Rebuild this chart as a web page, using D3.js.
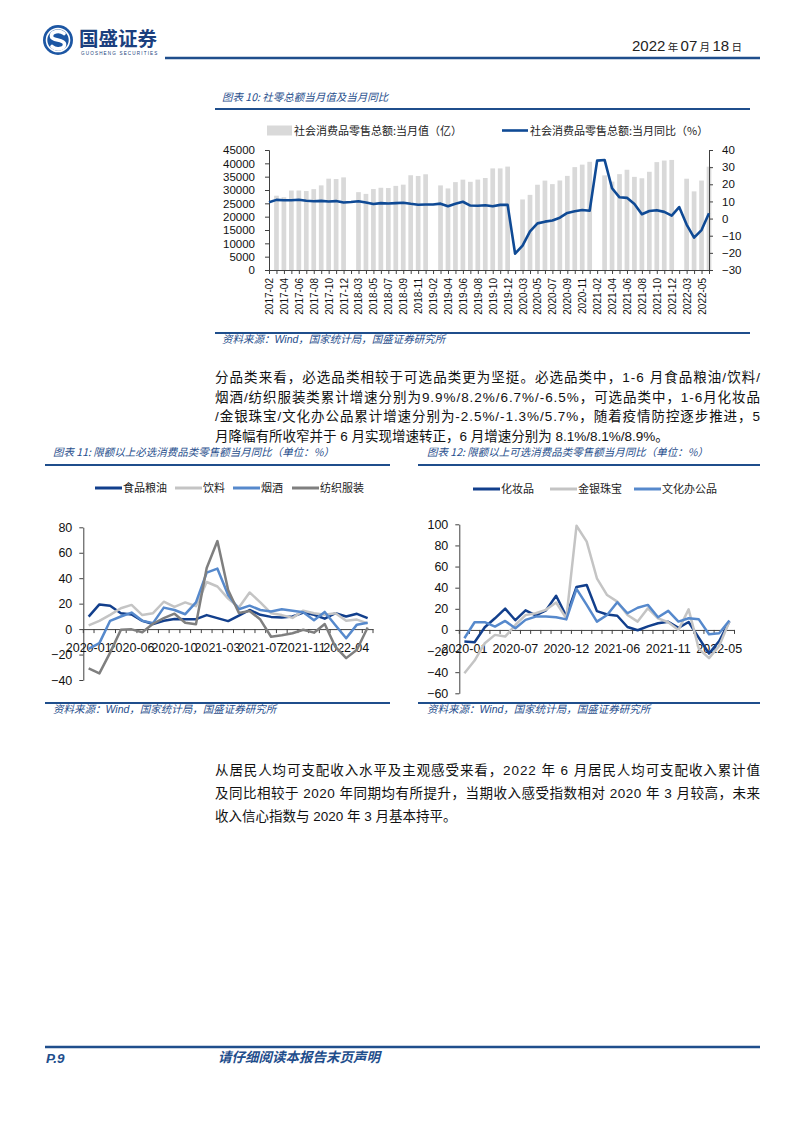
<!DOCTYPE html>
<html><head><meta charset="utf-8">
<script src="https://cdn.jsdelivr.net/npm/d3@7"></script>
<style>
html,body{margin:0;padding:0;background:#fff;}
svg{display:block;}
</style></head><body>
<svg id="page" width="794" height="1123"></svg>
<script>
// ---------------- DATA ----------------
const months10 = [
"2017-02","2017-03","2017-04","2017-05","2017-06","2017-07","2017-08","2017-09","2017-10","2017-11","2017-12",
"2018-02","2018-03","2018-04","2018-05","2018-06","2018-07","2018-08","2018-09","2018-10","2018-11","2018-12",
"2019-02","2019-03","2019-04","2019-05","2019-06","2019-07","2019-08","2019-09","2019-10","2019-11","2019-12",
"2020-02","2020-03","2020-04","2020-05","2020-06","2020-07","2020-08","2020-09","2020-10","2020-11","2020-12",
"2021-02","2021-03","2021-04","2021-05","2021-06","2021-07","2021-08","2021-09","2021-10","2021-11","2021-12",
"2022-02","2022-03","2022-04","2022-05","2022-06"];
const tickLabels10 = ["2017-02","2017-04","2017-06","2017-08","2017-10","2017-12","2018-03","2018-05","2018-07","2018-09","2018-11",
"2019-02","2019-04","2019-06","2019-08","2019-10","2019-12","2020-03","2020-05","2020-07","2020-09","2020-11",
"2021-02","2021-04","2021-06","2021-08","2021-10","2021-12","2022-03","2022-05"];
const retailValue = [
null,27864,27278,29805,29808,29610,30330,31735,34241,34108,34734,
null,29194,28542,30359,30842,30734,31542,32005,35534,35260,35893,
null,31726,30586,32956,33878,33073,33896,34495,38104,38094,38777,
null,26450,28178,31973,33526,32203,33571,35295,38576,39514,40566,
null,35484,33153,35945,37586,34925,34395,36833,40454,41043,41269,
null,34233,29483,33547,38742];
const retailYoY = [
9.5,10.9,10.7,10.7,11.0,10.4,10.1,10.3,10.0,10.2,9.4,
9.7,10.1,9.4,8.5,9.0,8.8,9.0,9.2,8.6,8.1,8.2,
8.2,8.7,7.2,8.6,9.8,7.6,7.5,7.8,7.2,8.0,8.0,
-20.5,-15.8,-7.5,-2.8,-1.8,-1.1,0.5,3.3,4.3,5.0,4.6,
33.8,34.2,17.7,12.4,12.1,8.5,2.5,4.4,4.9,3.9,1.7,
6.7,-3.5,-11.1,-6.7,3.1];
const leftTicks10 = [0,5000,10000,15000,20000,25000,30000,35000,40000,45000];
const rightTicks10 = [-30,-20,-10,0,10,20,30,40];

const months11 = ["2020-01","2020-03","2020-04","2020-05","2020-06","2020-07","2020-08","2020-09","2020-10","2020-11","2020-12",
"2021-02","2021-03","2021-04","2021-05","2021-06","2021-07","2021-08","2021-09","2021-10","2021-11","2021-12",
"2022-02","2022-03","2022-04","2022-05","2022-06"];
const tickLabels11 = ["2020-01","2020-06","2020-10","2021-03","2021-07","2021-11","2022-04"];
const food    = [9.8,19.4,18.3,12.5,11.5,6.5,4.0,6.5,8.0,7.8,7.8,11.0,8.6,6.3,10.6,15.0,11.2,9.6,9.1,9.9,13.0,11.2,8.2,12.5,9.9,12.0,8.6];
const drinks  = [3.0,6.5,11.2,16.4,19.0,11.0,12.5,21.5,17.5,21.0,18.0,37.0,33.5,24.0,17.0,28.8,21.0,12.5,11.0,8.8,14.5,12.5,11.2,12.5,6.5,7.5,4.5];
const tobacco = [-15.5,-11.0,6.5,9.9,13.0,6.5,4.7,16.9,15.0,11.7,21.0,44.4,47.5,26.8,15.6,18.4,15.0,13.8,15.6,14.5,13.2,7.0,13.5,3.0,-7.2,3.5,5.0];
const apparel = [-30.9,-34.8,-18.5,-0.6,-0.2,-2.5,4.2,8.6,12.1,5.0,3.8,48.0,69.2,30.7,12.6,14.3,7.5,-6.0,-4.8,-3.3,-0.5,-2.8,4.0,-14.0,-22.8,-16.2,1.2];
const ticks11 = [-40,-20,0,20,40,60,80];

const months12 = months11;
const tickLabels12 = ["2020-01","2020-07","2020-12","2021-06","2021-11","2022-05"];
const cosmetics  = [-11.0,-11.6,2.5,11.0,20.1,9.2,18.5,13.7,18.5,32.3,13.0,40.7,42.5,17.8,14.6,13.4,2.8,-0.3,3.4,6.3,7.7,2.0,7.5,-7.5,-22.3,-10.5,8.1];
const jewelry    = [-41.0,-29.0,-12.6,-4.7,-6.3,4.7,14.0,15.8,19.0,26.0,11.0,98.6,83.6,48.9,33.0,26.8,14.2,7.9,20.5,11.0,7.3,0.0,19.5,-17.9,-26.7,-15.2,8.1];
const stationery = [-7.9,7.3,7.3,3.2,8.5,1.6,9.5,12.6,12.6,12.0,10.0,38.8,23.7,7.9,14.2,26.2,15.8,21.0,23.7,12.0,18.0,7.9,11.0,10.0,-4.1,-3.2,8.9];
const ticks12 = [-60,-40,-20,0,20,40,60,80,100];

const para1 = [
 "分品类来看，必选品类相较于可选品类更为坚挺。必选品类中，1-6 月食品粮油/饮料/",
 "烟酒/纺织服装类累计增速分别为9.9%/8.2%/6.7%/-6.5%，可选品类中，1-6月化妆品",
 "/金银珠宝/文化办公品累计增速分别为-2.5%/-1.3%/5.7%，随着疫情防控逐步推进，5",
 "月降幅有所收窄并于 6 月实现增速转正，6 月增速分别为 8.1%/8.1%/8.9%。"];
const para2 = [
 "从居民人均可支配收入水平及主观感受来看，2022 年 6 月居民人均可支配收入累计值",
 "及同比相较于 2020 年同期均有所提升，当期收入感受指数相对 2020 年 3 月较高，未来",
 "收入信心指数与 2020 年 3 月基本持平。"];

// ---------------- STYLE ----------------
const BLUE = "#1F4E8C";
const CJK = "'Noto Sans CJK SC', sans-serif";
const NUM = "'Liberation Sans', Arial, sans-serif";
const MIX = "'Liberation Sans', 'Noto Sans CJK SC', sans-serif";
const AXIS = "#404040";

const svg = d3.select("#page");

// ---------------- HEADER ----------------
const logo = svg.append("g");
logo.append("circle").attr("cx",58).attr("cy",40).attr("r",15).attr("fill","#1C56A3");
logo.append("circle").attr("cx",58).attr("cy",40).attr("r",11.5).attr("fill","none").attr("stroke","#fff").attr("stroke-width",1.6);
logo.append("path").attr("d","M64,33.5 C60,30 51,31 51.5,36.5 C52,41 64,39 64.5,44 C65,49 56,50.5 52,46.5")
  .attr("fill","none").attr("stroke","#fff").attr("stroke-width",3.6).attr("stroke-linecap","round");
svg.append("text").attr("x",79).attr("y",45.5).text("国盛证券")
  .attr("font-family",CJK).attr("font-weight",700).attr("font-size",19.5).attr("fill","#1B3F7E");
svg.append("text").attr("x",81).attr("y",55).text("GUOSHENG SECURITIES")
  .attr("font-family",NUM).attr("font-size",4.6).attr("letter-spacing",1.15).attr("fill","#1B3F7E");
const date = svg.append("text").attr("x",742).attr("y",51).attr("text-anchor","end").attr("fill","#222");
[["2022","n"],[" 年 ","c"],["07","n"],[" 月 ","c"],["18","n"],[" 日","c"]].forEach(([t,k])=>{
  date.append("tspan").text(t).attr("font-family", k==="n" ? "'Liberation Sans Narrow','Liberation Sans',sans-serif" : CJK)
    .attr("font-size", k==="n"?15:10.5);
});
svg.append("line").attr("x1",165).attr("x2",760).attr("y1",58).attr("y2",58).attr("stroke",BLUE).attr("stroke-width",2.6);

// ---------------- FOOTER ----------------
svg.append("line").attr("x1",45).attr("x2",760).attr("y1",1047).attr("y2",1047).attr("stroke",BLUE).attr("stroke-width",2.4);
svg.append("text").attr("x",46).attr("y",1063).text("P.9").attr("font-family",NUM).attr("font-weight",700)
  .attr("font-style","italic").attr("font-size",13.5).attr("fill",BLUE);
svg.append("text").attr("x",218).attr("y",1062).text("请仔细阅读本报告末页声明").attr("font-family",CJK).attr("font-weight",700)
  .attr("font-style","italic").attr("font-size",13.5).attr("fill",BLUE);

// ---------------- HELPERS ----------------
function chartFrame(x1, x2, titleX, titleY, ruleY, title, srcRuleY, srcY){
  svg.append("text").attr("x",titleX).attr("y",titleY).text(title).attr("font-family",CJK)
    .attr("font-style","italic").attr("font-size",10.5).attr("fill",BLUE);
  svg.append("line").attr("x1",x1).attr("x2",x2).attr("y1",ruleY).attr("y2",ruleY).attr("stroke",BLUE).attr("stroke-width",2.2);
  svg.append("line").attr("x1",x1).attr("x2",x2).attr("y1",srcRuleY).attr("y2",srcRuleY).attr("stroke",BLUE).attr("stroke-width",2.2);
  const s = svg.append("text").attr("x",titleX).attr("y",srcY).attr("font-style","italic").attr("font-size",10.5).attr("fill",BLUE);
  s.append("tspan").text("资料来源：").attr("font-family",CJK);
  s.append("tspan").text("Wind").attr("font-family",NUM);
  s.append("tspan").text("，国家统计局，国盛证券研究所").attr("font-family",CJK);
}
function styleAxis(g, size){
  g.select(".domain").attr("stroke",AXIS).attr("stroke-width",1);
  g.selectAll(".tick line").attr("stroke",AXIS).attr("stroke-width",1);
  g.selectAll("text").attr("font-family",NUM).attr("font-size",size).attr("fill","#111");
}

// ---------------- CHART 10 ----------------
chartFrame(215, 750, 222, 101, 109, "图表 10:  社零总额当月值及当月同比", 333, 343);
{
  const x = d3.scalePoint().domain(months10).range([269, 709]);
  const yL = d3.scaleLinear().domain([0,45000]).range([270,150]);
  const yR = d3.scaleLinear().domain([-30,40]).range([270,150]);
  const bw = 4.7;
  svg.append("g").selectAll("rect").data(months10.map((m,i)=>({m, v:retailValue[i]})).filter(d=>d.v!=null))
    .join("rect").attr("x",d=>x(d.m)-bw/2).attr("width",bw).attr("y",d=>yL(d.v)).attr("height",d=>yL(0)-yL(d.v))
    .attr("fill","#D9D9D9");
  const gl = svg.append("g").attr("transform","translate(269,0)")
    .call(d3.axisLeft(yL).tickValues(leftTicks10).tickSize(4).tickPadding(10).tickFormat(d3.format("d")));
  styleAxis(gl, 11.5);
  const gr = svg.append("g").attr("transform","translate(709,0)")
    .call(d3.axisRight(yR).tickValues(rightTicks10).tickSize(4).tickPadding(9).tickFormat(d3.format("d")));
  styleAxis(gr, 11.5);
  const gb = svg.append("g").attr("transform","translate(0,270)")
    .call(d3.axisBottom(x).tickSize(4).tickSizeOuter(0).tickFormat(d => tickLabels10.includes(d) ? d : ""));
  styleAxis(gb, 10);
  gb.selectAll("text").attr("transform","rotate(-90)").attr("x",-8).attr("y",0).attr("dy","0.35em").style("text-anchor","end");
  const line = d3.line().x((d,i)=>x(months10[i])).y(d=>yR(d));
  svg.append("path").datum(retailYoY).attr("d",line).attr("fill","none").attr("stroke","#0F4A95")
    .attr("stroke-width",2.6).attr("stroke-linejoin","round");
  // legend
  svg.append("rect").attr("x",267).attr("y",125.5).attr("width",25).attr("height",10).attr("fill","#D9D9D9");
  svg.append("text").attr("x",294).attr("y",134.5).text("社会消费品零售总额:当月值（亿）")
    .attr("font-family",CJK).attr("font-size",11).attr("fill","#222");
  svg.append("line").attr("x1",502).attr("x2",528).attr("y1",130.5).attr("y2",130.5).attr("stroke","#0F4A95").attr("stroke-width",2.6);
  svg.append("text").attr("x",530).attr("y",134.5).text("社会消费品零售总额:当月同比（%）")
    .attr("font-family",CJK).attr("font-size",11).attr("fill","#222");
}

// ---------------- LINE CHART HELPER ----------------
function lineChart(o){
  const x = d3.scaleBand().domain(o.cats).range([o.x0, o.x1]);
  const y = d3.scaleLinear().domain(o.yDomain).range([o.yBottom, o.yTop]);
  const gy = svg.append("g").attr("transform",`translate(${o.x0},0)`)
    .call(d3.axisLeft(y).tickValues(o.ticks).tickSize(4).tickPadding(7).tickSizeOuter(0));
  styleAxis(gy, 12.5);
  const y0 = y(0);
  const gx = svg.append("g").attr("transform",`translate(0,${y0})`)
    .call(d3.axisBottom(x).tickSize(0).tickPadding(14).tickFormat(d => o.tickLabels.includes(d) ? d : ""));
  styleAxis(gx, 12.5);
  gx.selectAll(".tick text").attr("fill","#111");
  // category boundary ticks
  const bounds = o.cats.map(c => x(c)).concat([o.x1]);
  svg.append("g").selectAll("line").data(bounds).join("line")
    .attr("x1",d=>d).attr("x2",d=>d).attr("y1",y0).attr("y2",y0+4).attr("stroke",AXIS).attr("stroke-width",1);
  o.series.forEach(s=>{
    const ln = d3.line().x((d,i)=>x(o.cats[i]) + x.bandwidth()/2).y(d=>y(d));
    svg.append("path").datum(s.values).attr("d",ln).attr("fill","none").attr("stroke",s.color)
      .attr("stroke-width",2.5).attr("stroke-linejoin","round");
  });
  // legend
  o.series.forEach(s=>{
    svg.append("line").attr("x1",s.lx).attr("x2",s.lx+27).attr("y1",o.ly).attr("y2",o.ly).attr("stroke",s.color).attr("stroke-width",3);
    svg.append("text").attr("x",s.lx+28).attr("y",o.ly+4).text(s.name).attr("font-family",CJK).attr("font-size",11).attr("fill","#222");
  });
}

// ---------------- CHART 11 ----------------
chartFrame(45, 390, 53, 456, 465, "图表 11:  限额以上必选消费品类零售额当月同比（单位：%）", 703, 713);
lineChart({
  cats: months11, tickLabels: tickLabels11, x0: 83.3, x1: 373, yDomain:[-40,80], yBottom:680, yTop:527.3, ticks: ticks11, ly: 488,
  series: [
    {name:"食品粮油", values: food, color:"#123F8C", lx:95},
    {name:"饮料", values: drinks, color:"#C4C4C4", lx:175},
    {name:"烟酒", values: tobacco, color:"#5689CC", lx:233},
    {name:"纺织服装", values: apparel, color:"#7F7F7F", lx:292}
  ]
});

// ---------------- CHART 12 ----------------
chartFrame(418, 760, 427, 456, 465, "图表 12:  限额以上可选消费品类零售额当月同比（单位：%）", 703, 713);
lineChart({
  cats: months12, tickLabels: tickLabels12, x0: 459.3, x1: 734.5, yDomain:[-60,100], yBottom:693.3, yTop:524.3, ticks: ticks12, ly: 489,
  series: [
    {name:"化妆品", values: cosmetics, color:"#123F8C", lx:473},
    {name:"金银珠宝", values: jewelry, color:"#C4C4C4", lx:550},
    {name:"文化办公品", values: stationery, color:"#5689CC", lx:634}
  ]
});

// ---------------- BODY TEXT ----------------
function paragraph(lines, x, y0, lh, fullW){
  lines.forEach((t,i)=>{
    const el = svg.append("text").attr("x",x).attr("y",y0+i*lh).text(t)
      .attr("font-family",MIX).attr("font-size",13.5).attr("fill","#111");
    if(i < lines.length-1) el.attr("textLength",fullW).attr("lengthAdjust","spacing");
  });
}
paragraph(para1, 215, 382, 19.5, 545);
paragraph(para2, 215, 775, 23, 545);
</script>
</body></html>
